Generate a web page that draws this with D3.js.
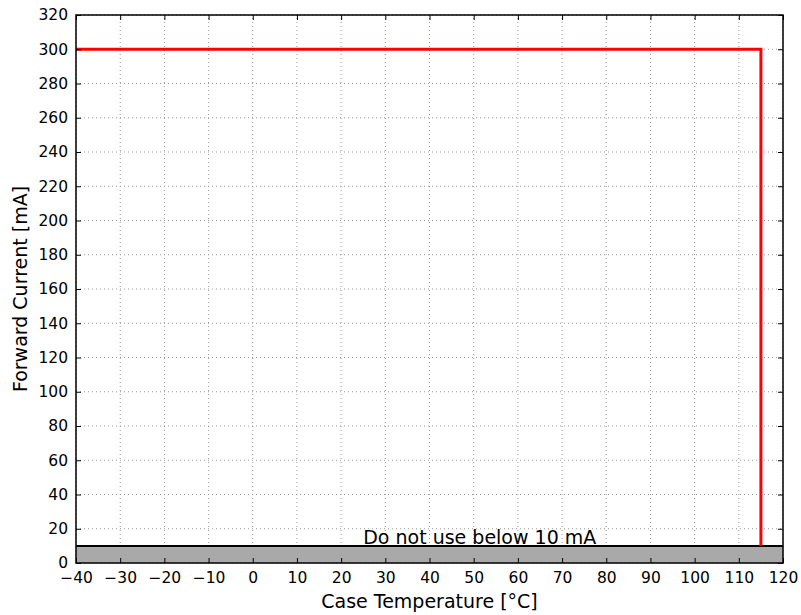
<!DOCTYPE html>
<html>
<head>
<meta charset="utf-8">
<script src="https://cdn.jsdelivr.net/npm/d3@7"></script>
<style>
  body { margin: 0; background: #fff; }
  text { font-family: "DejaVu Sans", sans-serif; }
</style>
</head>
<body>
<script>
// derating curve data
var curveTemp = [-40, 115, 115];
var curveCurrent = [300, 300, 10];
var minCurrent = 10;
var noteText = "Do not use below 10 mA";
var noteAt = [25, 11];
var xTicks = d3.range(-40, 121, 10);
var yTicks = d3.range(0, 321, 20);

var width = 801, height = 615;
var margin = { left: 76, right: 18, top: 15, bottom: 52 };

var svg = d3.select("body").append("svg")
  .attr("width", width)
  .attr("height", height);

var x = d3.scaleLinear().domain([-40, 120]).range([margin.left, width - margin.right]);
var y = d3.scaleLinear().domain([0, 320]).range([height - margin.bottom, margin.top]);

// grid
var grid = svg.append("g");
grid.selectAll("line.gx").data(xTicks).enter().append("line")
  .attr("x1", d => x(d)).attr("x2", d => x(d))
  .attr("y1", y(0)).attr("y2", y(320))
  .attr("stroke", "#999").attr("stroke-width", 1).attr("stroke-dasharray", "1,3");
grid.selectAll("line.gy").data(yTicks).enter().append("line")
  .attr("y1", d => y(d)).attr("y2", d => y(d))
  .attr("x1", x(-40)).attr("x2", x(120))
  .attr("stroke", "#999").attr("stroke-width", 1).attr("stroke-dasharray", "1,3");

// forbidden band
svg.append("rect")
  .attr("x", x(-40)).attr("y", y(minCurrent))
  .attr("width", x(120) - x(-40)).attr("height", y(0) - y(minCurrent))
  .attr("fill", "#a9a9a9");
svg.append("line")
  .attr("x1", x(-40)).attr("x2", x(120))
  .attr("y1", y(minCurrent)).attr("y2", y(minCurrent))
  .attr("stroke", "#000").attr("stroke-width", 2);

svg.append("text")
  .attr("x", x(noteAt[0])).attr("y", y(noteAt[1]))
  .attr("font-size", 19)
  .text(noteText);

// curve
var pts = curveTemp.map((t, i) => [t, curveCurrent[i]]);
svg.append("path")
  .datum(pts)
  .attr("fill", "none")
  .attr("stroke", "red")
  .attr("stroke-width", 3)
  .attr("d", d3.line().x(d => x(d[0])).y(d => y(d[1])));

// axes with inward ticks on all sides
var fmt = d3.format("");
svg.append("g").attr("transform", "translate(0," + y(0) + ")")
  .call(d3.axisBottom(x).tickValues(xTicks).tickSizeInner(-5).tickSizeOuter(0).tickPadding(9).tickFormat(fmt))
  .call(g => g.select(".domain").remove())
  .selectAll("text").attr("font-size", 15.5).attr("font-family", "DejaVu Sans").attr("fill", "#000");
svg.append("g").attr("transform", "translate(0," + y(320) + ")")
  .call(d3.axisTop(x).tickValues(xTicks).tickSizeInner(-5).tickSizeOuter(0).tickFormat(""))
  .call(g => g.select(".domain").remove());
svg.append("g").attr("transform", "translate(" + x(-40) + ",0)")
  .call(d3.axisLeft(y).tickValues(yTicks).tickSizeInner(-5).tickSizeOuter(0).tickPadding(8).tickFormat(fmt))
  .call(g => g.select(".domain").remove())
  .selectAll("text").attr("font-size", 15.5).attr("font-family", "DejaVu Sans").attr("fill", "#000");
svg.append("g").attr("transform", "translate(" + x(120) + ",0)")
  .call(d3.axisRight(y).tickValues(yTicks).tickSizeInner(-5).tickSizeOuter(0).tickFormat(""))
  .call(g => g.select(".domain").remove());
svg.selectAll(".tick line").attr("stroke", "#000").attr("stroke-width", 1);

// frame
svg.append("rect")
  .attr("x", x(-40)).attr("y", y(320))
  .attr("width", x(120) - x(-40)).attr("height", y(0) - y(320))
  .attr("fill", "none").attr("stroke", "#000").attr("stroke-width", 1.5);

// axis labels
svg.append("text")
  .attr("x", (x(-40) + x(120)) / 2).attr("y", 608)
  .attr("text-anchor", "middle").attr("font-size", 19)
  .text("Case Temperature [°C]");
svg.append("text")
  .attr("transform", "translate(27," + (y(0) + y(320)) / 2 + ") rotate(-90)")
  .attr("text-anchor", "middle").attr("font-size", 19)
  .text("Forward Current [mA]");
</script>
</body>
</html>
